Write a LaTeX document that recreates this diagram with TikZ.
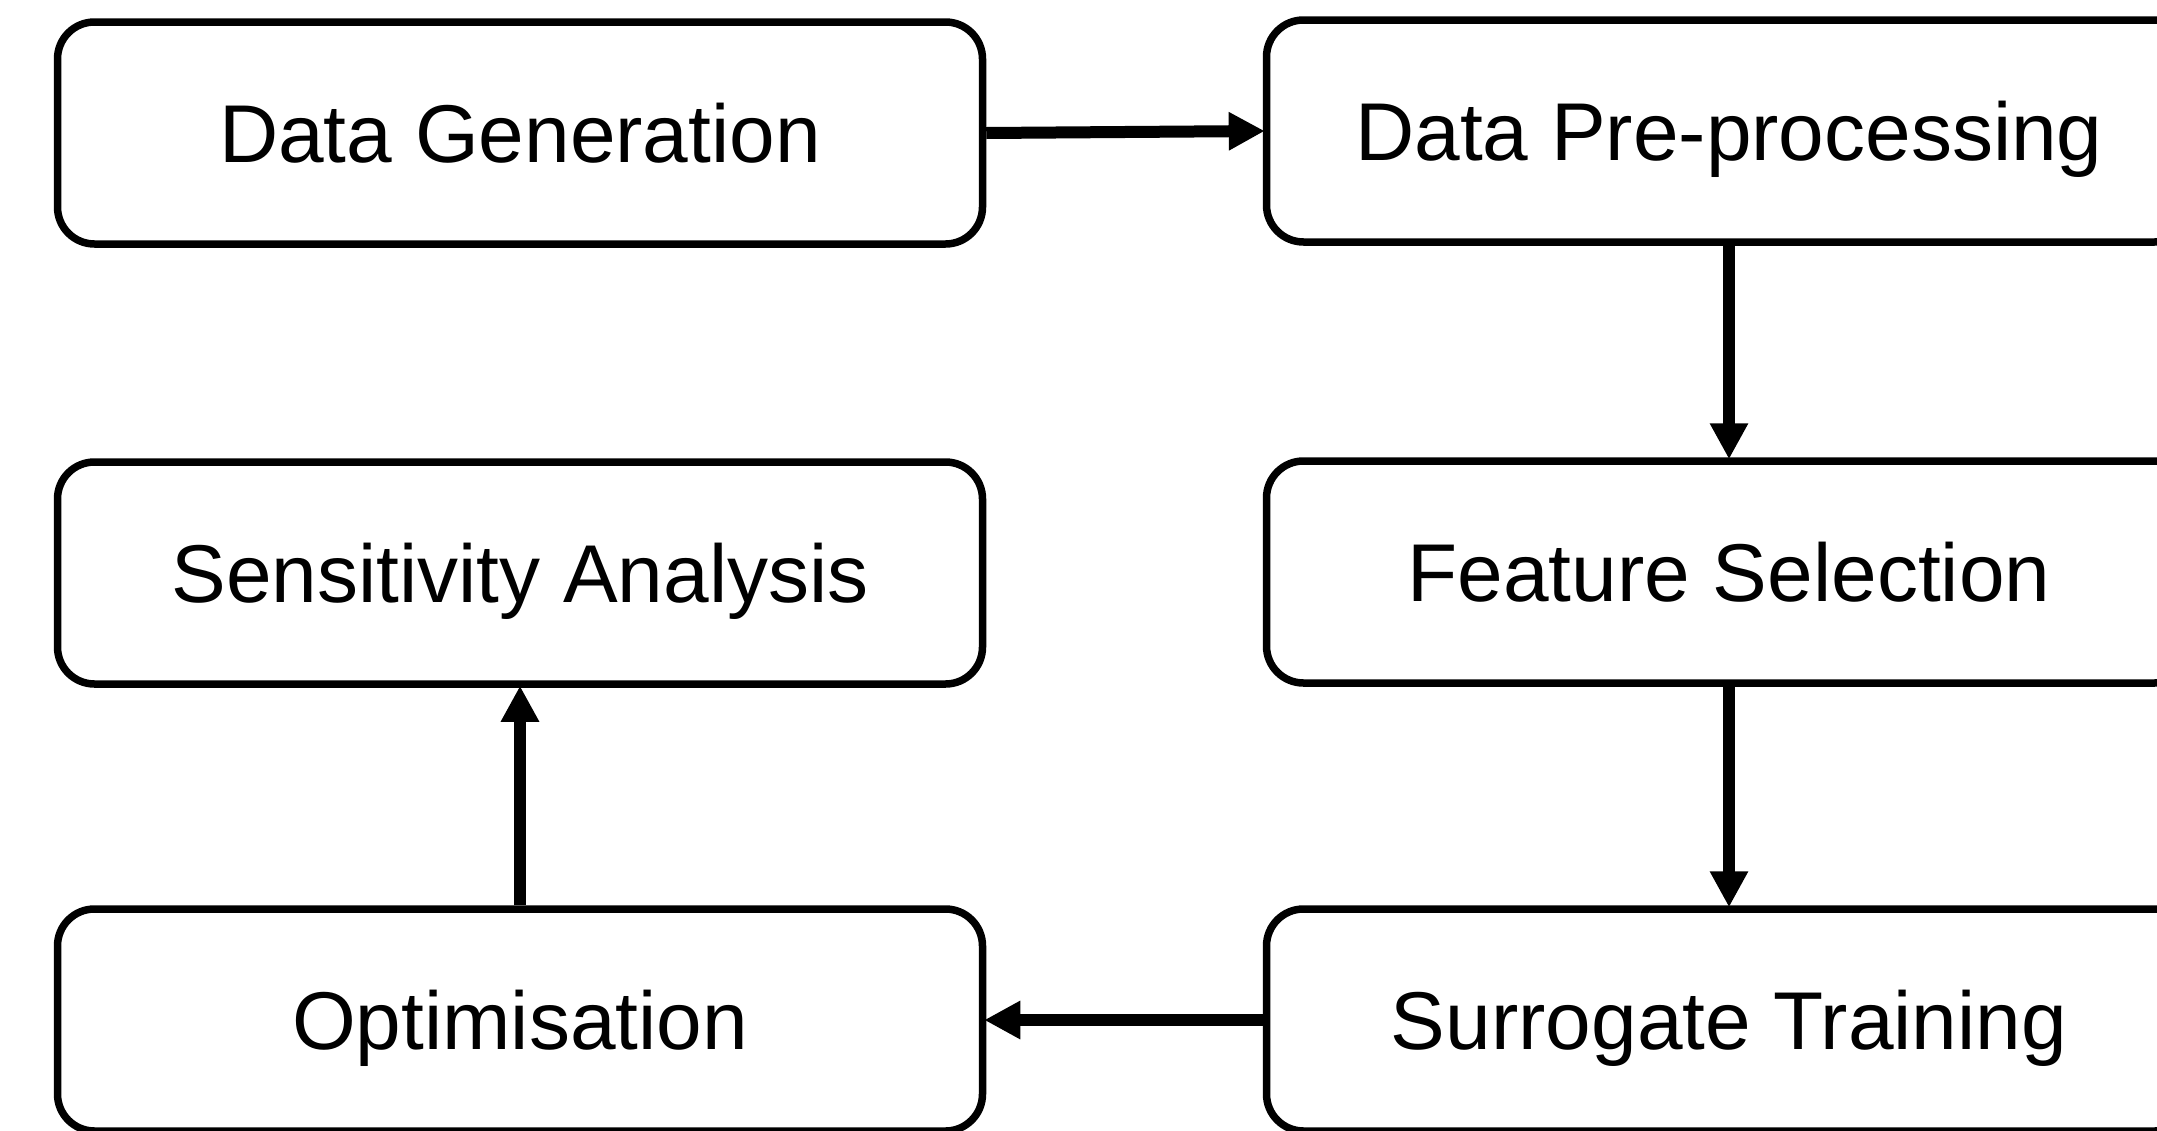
\documentclass[tikz,border=0pt]{standalone}
\usepackage{fontspec}
\setmainfont{Liberation Sans}
\usetikzlibrary{arrows.meta}
\begin{document}
\begin{tikzpicture}[x=1pt,y=-1pt,
  stepbox/.style={draw=black, line width=7.5pt, rounded corners=37pt, fill=white,
    minimum width=925pt, minimum height=222pt, inner sep=0pt,
    font=\fontsize{82}{98}\selectfont, text height=58.7pt, text depth=0pt},
  flow/.style={line width=12pt, -{Triangle[length=36pt,width=36pt]}, shorten >=-2pt}]
\useasboundingbox (0,0) rectangle (2157,1130);
\clip (0,0) rectangle (2157,1130);
\node[stepbox] (dg) at (520,133) {Data Generation};
\node[stepbox] (dp) at (1729,131) {Data Pre-processing};
\node[stepbox] (sa) at (520,573) {Sensitivity Analysis};
\node[stepbox] (fs) at (1729,572) {Feature Selection};
\node[stepbox] (op) at (520,1020) {Optimisation};
\node[stepbox] (st) at (1729,1020) {Surrogate Training};
\draw[flow] (dg.east) -- (dp.west);
\draw[flow] (dp.south) -- (fs.north);
\draw[flow] (fs.south) -- (st.north);
\draw[flow] (st.west) -- (op.east);
\draw[flow] (op.north) -- (sa.south);
\end{tikzpicture}
\end{document}
